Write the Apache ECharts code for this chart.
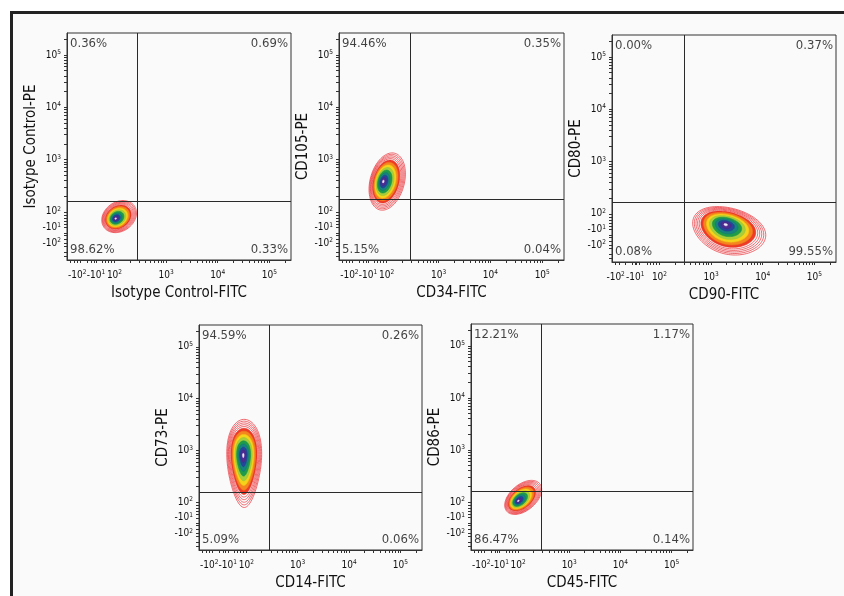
<!DOCTYPE html>
<html>
<head>
<meta charset="utf-8">
<script src="https://cdn.jsdelivr.net/npm/echarts@6/dist/echarts.min.js"></script>
<style>
html,body{margin:0;padding:0;background:#ffffff;}
#chart{width:844px;height:596px;}
</style>
</head>
<body>
<div id="chart"></div>
<script>
// ---------- data ----------
const xNames = ['Isotype Control-FITC', 'CD34-FITC', 'CD90-FITC', 'CD14-FITC', 'CD45-FITC'];
const yNames = ['Isotype Control-PE', 'CD105-PE', 'CD80-PE', 'CD73-PE', 'CD86-PE'];
const pctUL = ['0.36%', '94.46%', '0.00%', '94.59%', '12.21%'];
const pctUR = ['0.69%', '0.35%', '0.37%', '0.26%', '1.17%'];
const pctLL = ['98.62%', '5.15%', '0.08%', '5.09%', '86.47%'];
const pctLR = ['0.33%', '0.04%', '99.55%', '0.06%', '0.14%'];
// quadrant gates (display units: 10^k -> k)
const gateX = [2.45, 2.46, 2.48, 2.45, 2.45];
const gateY = [2.20, 2.24, 2.22, 2.20, 2.20];
// population (contour) estimates, display units
const popCX = [2.02, 1.93, 3.28, 1.94, 2.00];
const popCY = [1.87, 2.58, 1.80, 2.91, 2.02];
const popRX = [0.36, 0.33, 0.72, 0.33, 0.42];
const popRY = [0.28, 0.56, 0.44, 0.85, 0.25];
const popAngle = [35, -15, -15, 0, 40];
const popShiftX = [0.07, 0.08, 0.06, 0.02, 0.10];
const popShiftY = [0.04, 0.0, -0.13, -0.16, 0.07];
const popEgg = [0, 0, 0.1, 0.25, 0];
// axis ticks
const axisMin = 1.08, axisMax = 5.42;
const tickLabels = ['-10^2', '-10^1', '10^2', '10^3', '10^4', '10^5'];
const yTickVals = [1.40, 1.70, 2, 3, 4, 5];
const xTickVals = [1.28, 1.64, 2, 3, 4, 5];
const xTickVals3 = [1.15, 1.53, 2, 3, 4, 5];

// ---------- style ----------
const FONT = "'Liberation Sans Narrow','DejaVu Sans Condensed','Roboto Condensed',sans-serif";
const TXT = '#111';
const grids = [
  {left: 67, top: 33, width: 224, height: 227},
  {left: 339, top: 33, width: 225, height: 227},
  {left: 612, top: 35, width: 224, height: 227},
  {left: 199, top: 325, width: 223, height: 225},
  {left: 471, top: 324, width: 222, height: 226}
];
// contour levels: scale, fill, stroke, lineWidth
const LEVELS = [
  {s: 1.00, fill: 'none', stroke: '#ea2d33', lw: 0.7},
  {s: 0.95, fill: 'none', stroke: '#ea2d33', lw: 0.7},
  {s: 0.90, fill: 'none', stroke: '#ea2d33', lw: 0.7},
  {s: 0.85, fill: 'none', stroke: '#ea2d33', lw: 0.7},
  {s: 0.80, fill: 'none', stroke: '#ea2d33', lw: 0.7},
  {s: 0.75, fill: '#ee3b27', stroke: '#e52a22', lw: 0.6},
  {s: 0.67, fill: '#f5861f', stroke: '#ef7a1c', lw: 0.6},
  {s: 0.58, fill: '#f6d31b', stroke: '#eec616', lw: 0.6},
  {s: 0.49, fill: '#a8ce3a', stroke: '#9cc336', lw: 0.6},
  {s: 0.40, fill: '#1f9c4a', stroke: '#1a9245', lw: 0.6},
  {s: 0.31, fill: '#17827f', stroke: '#147875', lw: 0.6},
  {s: 0.22, fill: '#25469b', stroke: '#213f90', lw: 0.6},
  {s: 0.14, fill: '#4f2c8f', stroke: '#492887', lw: 0.6},
  {s: 0.05, fill: '#efeaf8', stroke: '#d8d0ee', lw: 0.5}
];

function supLabel(str) {
  const neg = str[0] === '-';
  const exp = str.split('^')[1];
  return (neg ? '-' : '') + '10{s|' + exp + '}';
}
function makeFormatter(vals) {
  return function (v) {
    for (let i = 0; i < vals.length; i++) {
      if (Math.abs(vals[i] - v) < 1e-6) return supLabel(tickLabels[i]);
    }
    return '';
  };
}
function minorTicks(majors) {
  const t = majors.slice();
  for (let k = 2; k <= 5; k++) {
    for (let m = 2; m <= 9; m++) {
      const v = k + Math.log10(m);
      if (v < axisMax) t.push(v);
    }
  }
  [1.15, 1.22, 1.34, 1.48, 1.55, 1.6, 1.76, 1.82, 1.88, 1.94].forEach(v => t.push(v));
  return t;
}
const richSup = {s: {fontSize: 6.5, lineHeight: 6, verticalAlign: 'top', fontFamily: FONT, color: TXT}};

const option = {
  animation: false,
  backgroundColor: 'transparent',
  graphic: [{
    type: 'rect', z: -10,
    shape: {x: 11.5, y: 12.5, width: 900, height: 700},
    style: {fill: '#fafafa', stroke: '#222', lineWidth: 3}
  }],
  grid: [], xAxis: [], yAxis: [], series: []
};

for (let p = 0; p < 5; p++) {
  option.grid.push(Object.assign({show: true, borderColor: '#333', borderWidth: 1, backgroundColor: 'transparent'}, grids[p]));
  const xv = p === 2 ? xTickVals3 : xTickVals;
  option.xAxis.push({
    type: 'value', gridIndex: p, min: axisMin, max: axisMax,
    name: xNames[p], nameLocation: 'middle', nameGap: 26,
    nameTextStyle: {fontFamily: FONT, fontSize: 15, color: TXT},
    axisLine: {show: true, lineStyle: {color: '#333', width: 1}},
    axisTick: {show: true, inside: false, length: 3, customValues: minorTicks(xv), lineStyle: {color: '#333', width: 1}},
    axisLabel: {show: true, customValues: xv, formatter: makeFormatter(xv), margin: 9,
      fontFamily: FONT, fontSize: 10, lineHeight: 12, color: TXT, rich: richSup},
    splitLine: {show: false}
  });
  option.yAxis.push({
    type: 'value', gridIndex: p, min: axisMin, max: axisMax,
    name: yNames[p], nameLocation: 'middle', nameGap: 23,
    nameTextStyle: {fontFamily: FONT, fontSize: 15, color: TXT},
    axisLine: {show: true, lineStyle: {color: '#333', width: 1}},
    axisTick: {show: true, inside: false, length: 3, customValues: minorTicks(yTickVals), lineStyle: {color: '#333', width: 1}},
    axisLabel: {show: true, customValues: yTickVals, formatter: makeFormatter(yTickVals), margin: 6,
      fontFamily: FONT, fontSize: 10, lineHeight: 12, color: TXT, rich: richSup},
    splitLine: {show: false}
  });

  // contour items
  const items = [];
  LEVELS.forEach((L, li) => {
    items.push([
      popCX[p] + popShiftX[p] * L.s,
      popCY[p] + popShiftY[p] * L.s,
      popRX[p] * L.s, popRY[p] * L.s, popAngle[p], li, popEgg[p]
    ]);
  });
  option.series.push({
    type: 'custom', xAxisIndex: p, yAxisIndex: p, clip: true, z: 2,
    data: items,
    renderItem: function (params, api) {
      const cx = api.value(0), cy = api.value(1);
      const rx = api.value(2), ry = api.value(3);
      const phi = api.value(4) * Math.PI / 180;
      const L = LEVELS[api.value(5)];
      const egg = api.value(6);
      const c = api.coord([cx, cy]);
      const sz = api.size([rx, ry]);
      const pts = [];
      const N = 90;
      for (let i = 0; i < N; i++) {
        const t = i / N * Math.PI * 2;
        const v = Math.sin(t);
        const px = sz[0] * Math.cos(t) * (1 + egg * v);
        const py = -sz[1] * v;
        const X = px * Math.cos(phi) + py * Math.sin(phi);
        const Y = -px * Math.sin(phi) + py * Math.cos(phi);
        pts.push([c[0] + X, c[1] + Y]);
      }
      return {
        type: 'polygon',
        shape: {points: pts},
        style: {fill: L.fill, stroke: L.stroke, lineWidth: L.lw}
      };
    }
  });

  // quadrant labels + gate lines
  const lbl = (pos, align, va) => ({show: true, position: pos, align: align, verticalAlign: va,
    fontFamily: FONT, fontSize: 13, color: TXT, formatter: d => d.value[2]});
  option.series.push({
    type: 'scatter', xAxisIndex: p, yAxisIndex: p, symbolSize: 0, clip: false, z: 5, silent: true,
    data: [
      {value: [axisMin, axisMax, pctUL[p]], label: lbl([3, 4], 'left', 'top')},
      {value: [axisMax, axisMax, pctUR[p]], label: lbl([-3, 4], 'right', 'top')},
      {value: [axisMin, axisMin, pctLL[p]], label: lbl([3, -4], 'left', 'bottom')},
      {value: [axisMax, axisMin, pctLR[p]], label: lbl([-3, -4], 'right', 'bottom')}
    ],
    markLine: {
      silent: true, symbol: ['none', 'none'], animation: false, z: 6,
      label: {show: false},
      lineStyle: {color: '#2a2a2a', width: 1, type: 'solid'},
      data: [{xAxis: gateX[p]}, {yAxis: gateY[p]}]
    }
  });
}

const chart = echarts.init(document.getElementById('chart'), null, {renderer: 'canvas'});
chart.setOption(option);
</script>
</body>
</html>
